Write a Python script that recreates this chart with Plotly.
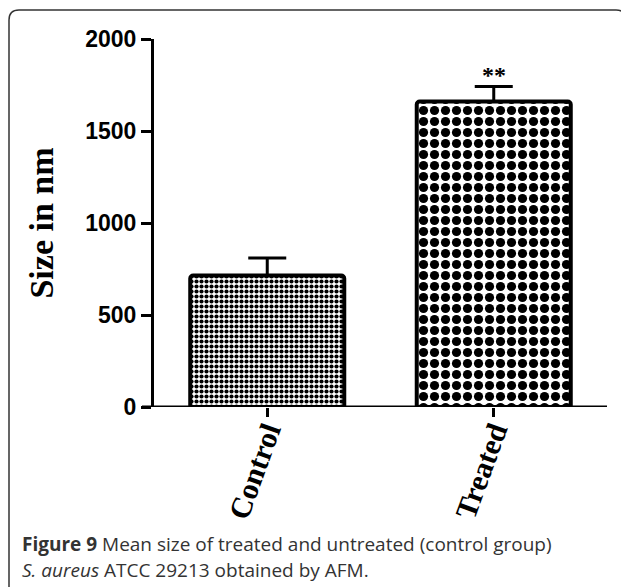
import plotly.graph_objects as go

categories = ["Control", "Treated"]
mean_size = [715, 1660]
error_up = [95, 82]
significance = ["", "**"]
y_ticks = [0, 500, 1000, 1500, 2000]

# page is offset by the 8px body margin; work in screen pixels, shift by 8
OFF = 8
W, H = 629 - OFF, 587 - OFF
L, T = 154 - OFF, 39 - OFF
R = W - (607 - OFF)
B = H - (407 - OFF)
pw, ph = W - L - R, H - T - B

def px_x(px):
    return (px - OFF - L) / pw

def px_y(py):
    return (H - B - (py - OFF)) / ph

fig = go.Figure()
fig.add_trace(go.Bar(
    x=categories,
    y=mean_size,
    width=0.68,
    marker=dict(
        color="white",
        cornerradius=3,
        line=dict(color="black", width=4),
        pattern=dict(shape=".", size=[5, 11], solidity=[0.55, 0.55],
                     fgcolor="black", bgcolor="white", fgopacity=1,
                     fillmode="overlay"),
    ),
    error_y=dict(type="data", symmetric=False, array=error_up,
                 arrayminus=[0, 0], color="black", thickness=3, width=19),
    showlegend=False,
))

for c, v, e, s in zip(categories, mean_size, error_up, significance):
    if s:
        fig.add_annotation(x=c, y=v + e, text=s, showarrow=False,
                           yanchor="bottom", yshift=-4,
                           font=dict(family="Liberation Serif", size=24,
                                     color="black", weight="bold"))

# frame with rounded corners
x0, x1 = px_x(9), px_x(626)
y0, y1 = px_y(600), px_y(10)
rx, ry = 10 / pw, 10 / ph
path = (f"M{x0},{y0} L{x0},{y1 - ry} Q{x0},{y1} {x0 + rx},{y1} "
        f"L{x1 - rx},{y1} Q{x1},{y1} {x1},{y1 - ry} L{x1},{y0}")
fig.add_shape(type="path", path=path, xref="paper", yref="paper",
              line=dict(color="#333333", width=1.5))

# x baseline extending slightly left of the y axis
fig.add_shape(type="line", xref="paper", yref="y", x0=px_x(142), x1=1,
              y0=0, y1=0, line=dict(color="black", width=3))

cap_font = dict(family="Open Sans", size=19, color="#333333")
fig.add_annotation(xref="paper", yref="paper", x=px_x(20), y=px_y(544),
                   xanchor="left", yanchor="middle", showarrow=False,
                   text="<b>Figure 9</b> Mean size of treated and untreated (control group)",
                   font=cap_font)
fig.add_annotation(xref="paper", yref="paper", x=px_x(20), y=px_y(570),
                   xanchor="left", yanchor="middle", showarrow=False,
                   text="<i>S. aureus</i> ATCC 29213 obtained by AFM.",
                   font=cap_font)

fig.update_layout(
    width=W, height=H,
    margin=dict(l=L, r=R, t=T, b=B, autoexpand=False),
    paper_bgcolor="white", plot_bgcolor="white",
    xaxis=dict(
        range=[-0.5, 1.5], showgrid=False, zeroline=False, showline=False,
        ticks="outside", ticklen=9, tickwidth=2.5, tickcolor="black",
        tickangle=-70, ticklabelstandoff=-15,
        tickfont=dict(family="Liberation Serif", size=30, color="black",
                      weight="bold"),
    ),
    yaxis=dict(
        range=[0, 2000], tickvals=y_ticks, showgrid=False, zeroline=False,
        showline=True, linewidth=3, linecolor="black",
        ticks="outside", ticklen=10, tickwidth=2.5, tickcolor="black",
        tickfont=dict(family="Liberation Sans", size=23, color="black",
                      weight="bold"),
        title=dict(text="Size in nm", standoff=22,
                   font=dict(family="Liberation Serif", size=34,
                             color="black", weight="bold")),
    ),
)

fig.write_html("out.html")
